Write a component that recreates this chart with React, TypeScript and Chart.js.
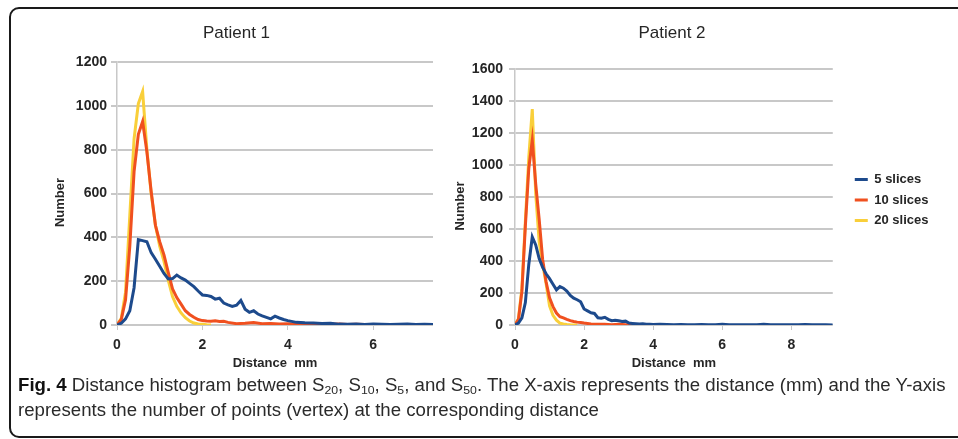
import React, { useEffect, useLayoutEffect, useRef, useState } from "react";
import { Chart, registerables } from "chart.js";

Chart.register(...registerables);

const FONT = "'Liberation Sans', Arial, Helvetica, sans-serif";
const TEXT = "#262626";
const GRID = "#c8c8c8";

const seriesLabels = ["5 slices", "10 slices", "20 slices"];
const seriesColors = ["#1d4a8c", "#f0501f", "#f9cf3a"];

const xTitle = "Distance  mm";
const yTitle = "Number     ";

// ---------- Patient 1 ----------
const p1Dist5 = [0, 0.1, 0.2, 0.3, 0.4, 0.5, 0.6, 0.7, 0.8, 0.9, 1.0, 1.1, 1.2, 1.3, 1.4, 1.5, 1.6, 1.7, 1.8, 1.9, 2.0, 2.1, 2.2, 2.3, 2.4, 2.5, 2.6, 2.7, 2.8, 2.9, 3.0, 3.1, 3.2, 3.3, 3.4, 3.5, 3.6, 3.7, 3.8, 3.9, 4.0, 4.2, 4.4, 4.6, 4.8, 5.0, 5.2, 5.4, 5.6, 5.8, 6.0, 6.2, 6.4, 6.6, 6.8, 7.0, 7.2, 7.4];
const p1Num5 = [0, 8, 28, 65, 170, 390, 385, 380, 330, 300, 268, 235, 210, 212, 228, 215, 205, 190, 175, 155, 137, 135, 130, 118, 122, 100, 92, 85, 90, 112, 72, 58, 65, 50, 42, 35, 28, 40, 32, 25, 20, 12, 10, 9, 7, 8, 4, 3, 4, 2, 4, 3, 2, 3, 4, 2, 3, 2];

const p1Dist10 = [0, 0.1, 0.2, 0.3, 0.4, 0.5, 0.6, 0.7, 0.8, 0.9, 1.0, 1.1, 1.2, 1.3, 1.4, 1.5, 1.6, 1.7, 1.8, 1.9, 2.0, 2.1, 2.2, 2.3, 2.4, 2.5, 2.6, 2.8, 3.0, 3.2, 3.4, 3.6, 3.8, 4.0, 4.2, 4.4, 4.6, 4.8, 5.0, 5.2, 5.4, 5.6, 5.8];
const p1Num10 = [0, 25, 115, 360, 700, 870, 928, 790, 610, 455, 380, 320, 240, 165, 125, 95, 65, 48, 35, 25, 20, 18, 17, 19, 16, 17, 12, 6, 8, 11, 6, 7, 5, 6, 4, 5, 3, 4, 3, 4, 2, 3, 2];

const p1Dist20 = [0, 0.1, 0.2, 0.3, 0.4, 0.5, 0.6, 0.7, 0.8, 0.9, 1.0, 1.1, 1.2, 1.3, 1.4, 1.5, 1.6, 1.7, 1.8, 1.9, 2.0, 2.1, 2.2];
const p1Num20 = [0, 30, 150, 500, 850, 1010, 1065, 800, 600, 455, 360, 290, 205, 130, 85, 55, 33, 18, 9, 5, 3, 1, 0];

// ---------- Patient 2 ----------
const p2Dist5 = [0, 0.1, 0.2, 0.3, 0.4, 0.5, 0.6, 0.7, 0.8, 0.9, 1.0, 1.1, 1.2, 1.3, 1.4, 1.5, 1.6, 1.7, 1.8, 1.9, 2.0, 2.1, 2.2, 2.3, 2.4, 2.5, 2.6, 2.7, 2.8, 2.9, 3.0, 3.1, 3.2, 3.3, 3.4, 3.5, 3.6, 3.7, 3.8, 3.9, 4.0, 4.2, 4.4, 4.6, 4.8, 5.0, 5.2, 5.4, 5.6, 5.8, 6.0, 6.2, 6.4, 6.6, 6.8, 7.0, 7.2, 7.4, 7.6, 7.8, 8.0, 8.2, 8.4, 8.6, 8.8, 9.0, 9.2];
const p2Num5 = [0, 12, 45, 140, 380, 550, 500, 415, 360, 320, 290, 255, 220, 240, 230, 212, 185, 168, 158, 145, 100, 88, 76, 72, 45, 42, 48, 35, 27, 30, 27, 22, 24, 12, 10, 8, 6, 8, 5, 4, 3, 4, 3, 2, 3, 2, 1, 3, 2, 2, 4, 2, 1, 2, 1, 2, 4, 1, 2, 1, 2, 1, 3, 1, 1, 1, 0];

const p2Dist10 = [0, 0.1, 0.2, 0.3, 0.4, 0.5, 0.6, 0.7, 0.8, 0.9, 1.0, 1.1, 1.2, 1.3, 1.4, 1.5, 1.6, 1.7, 1.8, 1.9, 2.0, 2.2, 2.4, 2.6, 2.8, 3.0, 3.2, 3.4, 3.6, 3.8, 4.0];
const p2Num10 = [0, 35, 210, 620, 980, 1155, 880, 660, 410, 270, 170, 115, 75, 52, 44, 35, 27, 22, 18, 15, 12, 7, 4, 5, 2, 4, 2, 3, 1, 2, 1];

const p2Dist20 = [0, 0.1, 0.2, 0.3, 0.4, 0.5, 0.6, 0.7, 0.8, 0.9, 1.0, 1.1, 1.2, 1.3, 1.4, 1.5, 1.6, 1.7, 1.8];
const p2Num20 = [0, 40, 230, 650, 1050, 1350, 820, 520, 380, 260, 120, 60, 30, 12, 6, 3, 1, 0, 0];

const toPoints = (d: number[], n: number[]) => d.map((x, i) => ({ x, y: n[i] }));

const legendShift = {
  id: "legendShift",
  afterLayout(chart: any) {
    const lg = chart.legend;
    if (lg) {
      lg.left += 14.5;
      lg.right += 14.5;
      lg.top += 3;
      lg.bottom += 3;
    }
  },
};

type Cfg = {
  title: string;
  xMax: number;
  yMax: number;
  yWidth: number;
  yTickPad: number;
  yTitlePad: number;
  titlePadBottom: number;
  padRight: number;
  legend: boolean;
  series: { x: number; y: number }[][];
};

function makeConfig(c: Cfg): any {
  const tickFont = { family: FONT, size: 14, weight: "bold" as const };
  const titleFont = { family: FONT, size: 13, weight: "bold" as const };
  return {
    type: "line",
    data: {
      datasets: c.series.map((pts, i) => ({
        label: seriesLabels[i],
        data: pts,
        borderColor: seriesColors[i],
        backgroundColor: seriesColors[i],
        borderWidth: 3,
        pointRadius: 0,
        tension: 0,
        fill: false,
      })),
    },
    options: {
      animation: false,
      responsive: false,
      maintainAspectRatio: false,
      devicePixelRatio: 1,
      layout: { padding: { left: 0, right: c.padRight, top: 0, bottom: 0 } },
      plugins: {
        tooltip: { enabled: false },
        title: {
          display: true,
          text: c.title,
          color: TEXT,
          font: { family: FONT, size: 17, weight: "normal" },
          padding: { top: 12.8, bottom: c.titlePadBottom },
        },
        legend: {
          display: c.legend,
          position: "right",
          fullSize: false,
          labels: {
            boxWidth: 13,
            boxHeight: 3,
            padding: 7.5,
            color: TEXT,
            font: { family: FONT, size: 13, weight: "bold" },
            generateLabels: (chart: any) =>
              (Chart.defaults.plugins.legend.labels as any)
                .generateLabels(chart)
                .map((l: any) => ({ ...l, lineWidth: 0 })),
          },
        },
      },
      scales: {
        x: {
          type: "linear",
          min: 0,
          max: c.xMax,
          afterFit: (s: any) => {
            s.height = 50;
          },
          ticks: {
            stepSize: 2,
            includeBounds: false,
            padding: 6.6,
            maxRotation: 0,
            color: TEXT,
            font: tickFont,
          },
          grid: { drawOnChartArea: false, tickLength: 5, color: GRID, lineWidth: 1 },
          border: { display: false },
          title: {
            display: true,
            text: xTitle,
            color: TEXT,
            font: titleFont,
            padding: { top: 0, bottom: 4.2 },
          },
        },
        y: {
          min: 0,
          max: c.yMax,
          afterFit: (s: any) => {
            s.width = c.yWidth;
          },
          ticks: {
            stepSize: 200,
            padding: c.yTickPad,
            color: TEXT,
            font: tickFont,
            callback: (v: any) => String(v),
          },
          grid: { tickLength: 6, color: GRID, lineWidth: 2 },
          border: { display: true, color: GRID, width: 1.5 },
          title: {
            display: true,
            text: yTitle,
            color: TEXT,
            font: titleFont,
            padding: { top: c.yTitlePad, bottom: 0 },
          },
        },
      },
    },
    plugins: c.legend ? [legendShift] : [],
  };
}

function ChartCanvas({ cfg, left, top, width, height }: { cfg: Cfg; left: number; top: number; width: number; height: number }) {
  const ref = useRef<HTMLCanvasElement>(null);
  useEffect(() => {
    const chart = new Chart(ref.current as HTMLCanvasElement, makeConfig(cfg));
    return () => chart.destroy();
  }, []);
  return (
    <canvas
      ref={ref}
      width={width}
      height={height}
      style={{ position: "absolute", left, top, width, height }}
    />
  );
}

const chart1: Cfg = {
  title: "Patient 1",
  xMax: 7.4,
  yMax: 1200,
  yWidth: 77,
  yTickPad: 4,
  yTitlePad: 12.2,
  titlePadBottom: 18.8,
  padRight: 105,
  legend: false,
  series: [toPoints(p1Dist5, p1Num5), toPoints(p1Dist10, p1Num10), toPoints(p1Dist20, p1Num20)],
};

const chart2: Cfg = {
  title: "Patient 2",
  xMax: 9.2,
  yMax: 1600,
  yWidth: 95,
  yTickPad: 6,
  yTitlePad: 32.2,
  titlePadBottom: 25.8,
  padRight: 32,
  legend: true,
  series: [toPoints(p2Dist5, p2Num5), toPoints(p2Dist10, p2Num10), toPoints(p2Dist20, p2Num20)],
};

const subStyle: React.CSSProperties = { fontSize: "0.66em", verticalAlign: "-0.28em", lineHeight: 0 };

function Caption() {
  const l1 = useRef<HTMLSpanElement>(null);
  const [k, setK] = useState(1);
  useLayoutEffect(() => {
    if (l1.current) {
      const w = l1.current.offsetWidth;
      if (w > 0) setK(927 / w);
    }
  }, []);
  const lineStyle: React.CSSProperties = {
    display: "inline-block",
    whiteSpace: "nowrap",
    transformOrigin: "0 0",
    transform: `scaleX(${k})`,
  };
  return (
    <div
      style={{
        position: "absolute",
        left: 18,
        top: 373,
        fontFamily: FONT,
        fontSize: 17.5,
        lineHeight: "25px",
        color: "#2a2a2a",
      }}
    >
      <div>
        <span ref={l1} style={lineStyle}>
          <b style={{ color: "#111" }}>Fig. 4</b> Distance histogram between S<sub style={subStyle}>20</sub>, S
          <sub style={subStyle}>10</sub>, S<sub style={subStyle}>5</sub>, and S<sub style={subStyle}>50</sub>. The X-axis
          represents the distance (mm) and the Y-axis
        </span>
      </div>
      <div>
        <span style={lineStyle}>represents the number of points (vertex) at the corresponding distance</span>
      </div>
    </div>
  );
}

export default function App() {
  return (
    <div
      style={{
        position: "absolute",
        left: 0,
        top: 0,
        width: 958,
        height: 439,
        overflow: "hidden",
        background: "#ffffff",
      }}
    >
      <div
        style={{
          position: "absolute",
          left: 9,
          top: 7,
          width: 980,
          height: 427,
          border: "2px solid #1a1a1a",
          borderRadius: "10px 0 0 10px",
          boxSizing: "content-box",
        }}
      />
      <ChartCanvas cfg={chart1} left={40} top={10} width={498} height={365} />
      <ChartCanvas cfg={chart2} left={420} top={10} width={536} height={365} />
      <Caption />
    </div>
  );
}
